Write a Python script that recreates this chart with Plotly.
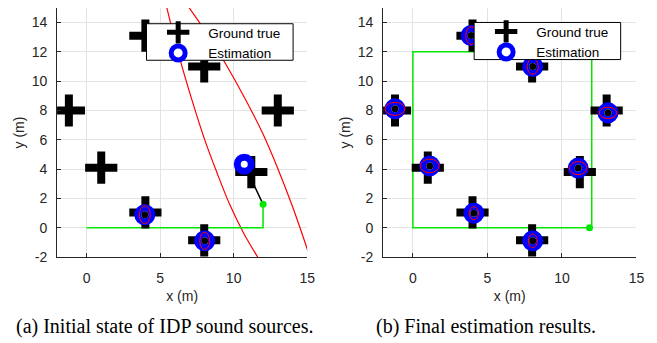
import plotly.graph_objects as go

# ---------------- data ----------------
truth_x = [4.0, 8.0, -1.2, 13.0, 1.0, 11.2, 4.0, 8.0]
truth_y = [13.1, 11.0, 8.0, 8.0, 4.1, 3.8, 1.05, -0.85]

# (a) initial state
init_est_x = [10.72, 3.96, 8.03]
init_est_y = [4.34, 0.89, -0.89]
init_dot_x = [3.96, 8.03]
init_dot_y = [0.89, -0.89]
init_ell_w = [0.74, 0.67]
init_ell_h = [1.22, 1.18]
init_path_x = [0, 12, 12]
init_path_y = [0, 0, 1.6]
init_robot_x = [12.0]
init_robot_y = [1.6]
init_ray_x = [12.0, 10.72]
init_ray_y = [1.6, 4.34]
curve1_x = [5.46, 6.35, 7.2, 8.0, 8.85, 9.75, 10.7, 11.64]
curve1_y = [15.0, 11.5, 8.6, 6.1, 3.8, 1.55, -0.4, -2.0]
curve2_x = [6.98, 8.25, 9.5, 10.75, 11.95, 13.0, 14.0, 15.04]
curve2_y = [15.0, 13.15, 11.1, 8.85, 6.5, 4.05, 1.45, -1.56]

# (b) final estimation
fin_est_x = [3.91, 8.04, -1.2, 13.09, 1.13, 11.09, 4.09, 8.04]
fin_est_y = [13.11, 11.0, 8.11, 7.84, 4.22, 4.07, 1.0, -0.89]
fin_ell_w = [0.73, 0.75, 1.33, 1.17, 1.26, 1.17, 0.62, 0.60]
fin_ell_h = [1.20, 1.05, 0.89, 0.78, 0.93, 0.89, 0.89, 0.93]
fin_path_x = [12, 12, 0, 0, 11.85]
fin_path_y = [0, 12, 12, 0, 0]
fin_robot_x = [11.85]
fin_robot_y = [0.0]

x_ticks = [0, 5, 10, 15]
y_ticks = [-2, 0, 2, 4, 6, 8, 10, 12, 14]
captions = ["(a) Initial state of IDP sound sources.", "(b) Final estimation results."]

# ---------------- styles ----------------
GREEN = "#00e600"
BLUE = "#0000ff"
AXC = "#262626"
FONT = "Liberation Sans, Arial, sans-serif"
SERIF = "Liberation Serif, Times New Roman, serif"
W, H = 657, 343

fig = go.Figure()

def add_panel(xa, ya, leg, curves, path_x, path_y, robot_x, robot_y, ray,
              est_x, est_y, dot_x, dot_y):
    for cx, cy in curves:
        fig.add_trace(go.Scatter(x=cx, y=cy, mode="lines",
                                 line=dict(color="red", width=1.2, shape="spline", smoothing=1.0),
                                 xaxis=xa, yaxis=ya, showlegend=False, hoverinfo="skip"))
    fig.add_trace(go.Scatter(x=path_x, y=path_y, mode="lines", line=dict(color=GREEN, width=1.5),
                             xaxis=xa, yaxis=ya, showlegend=False, hoverinfo="skip"))
    if ray is not None:
        fig.add_trace(go.Scatter(x=ray[0], y=ray[1], mode="lines", line=dict(color="black", width=1.5),
                                 xaxis=xa, yaxis=ya, showlegend=False, hoverinfo="skip"))
    fig.add_trace(go.Scatter(x=robot_x, y=robot_y, mode="markers",
                             marker=dict(color=GREEN, size=7, symbol="circle"),
                             xaxis=xa, yaxis=ya, showlegend=False, hoverinfo="skip"))
    fig.add_trace(go.Scatter(x=truth_x, y=truth_y, mode="markers", name="Ground true",
                             marker=dict(symbol="cross-thin", size=23, line=dict(color="black", width=8)),
                             xaxis=xa, yaxis=ya, legend=leg, showlegend=True))
    fig.add_trace(go.Scatter(x=est_x, y=est_y, mode="markers", name="Estimation",
                             marker=dict(symbol="circle", size=14, color="white",
                                         line=dict(color=BLUE, width=7)),
                             xaxis=xa, yaxis=ya, legend=leg, showlegend=True))
    fig.add_trace(go.Scatter(x=dot_x, y=dot_y, mode="markers",
                             marker=dict(symbol="circle", size=7, color="black"),
                             xaxis=xa, yaxis=ya, showlegend=False, hoverinfo="skip"))

add_panel("x", "y", "legend", [(curve1_x, curve1_y), (curve2_x, curve2_y)],
          init_path_x, init_path_y, init_robot_x, init_robot_y, (init_ray_x, init_ray_y),
          init_est_x, init_est_y, init_dot_x, init_dot_y)
add_panel("x2", "y2", "legend2", [],
          fin_path_x, fin_path_y, fin_robot_x, fin_robot_y, None,
          fin_est_x, fin_est_y, fin_est_x, fin_est_y)

shapes = []
for cx, cy, w, h in zip(init_dot_x, init_dot_y, init_ell_w, init_ell_h):
    shapes.append(dict(type="circle", xref="x", yref="y", x0=cx - w / 2, x1=cx + w / 2,
                       y0=cy - h / 2, y1=cy + h / 2, line=dict(color="red", width=1), layer="above"))
for cx, cy, w, h in zip(fin_est_x, fin_est_y, fin_ell_w, fin_ell_h):
    shapes.append(dict(type="circle", xref="x2", yref="y2", x0=cx - w / 2, x1=cx + w / 2,
                       y0=cy - h / 2, y1=cy + h / 2, line=dict(color="red", width=1), layer="above"))

# legend boxes (white, black border) drawn above the data; legend entries sit on top
legend_boxes = [(148.3, 296.7, 24.3, 61.7), (480.0, 628.3, 23.0, 61.0)]
for x0, x1, y0, y1 in legend_boxes:
    shapes.append(dict(type="rect", xref="paper", yref="paper",
                       x0=x0 / W, x1=x1 / W, y0=1 - y1 / H, y1=1 - y0 / H,
                       fillcolor="white", line=dict(color="black", width=1), layer="above"))

def ax_common(**kw):
    d = dict(range=[-2, 15], showgrid=True, gridcolor="#e3e3e3", gridwidth=1,
             showline=True, linecolor=AXC, linewidth=1, ticks="inside", ticklen=4,
             tickcolor=AXC, zeroline=False, mirror=False, fixedrange=True,
             tickfont=dict(family=FONT, size=14, color=AXC))
    d.update(kw)
    return d

xdomL = [57.8 / W, 311 / W]
xdomR = [387.8 / W, 644.3 / W]
ydom = [1 - 263.3 / H, 1 - 8 / H]

xt = dict(tickvals=x_ticks, ticktext=[str(v) for v in x_ticks], ticklabelstandoff=8,
          title=dict(text="x (m)", font=dict(family=FONT, size=14, color=AXC), standoff=6))
yt = dict(tickvals=y_ticks, ticktext=[str(v) for v in y_ticks], ticklabelstandoff=6,
          title=dict(text="y (m)", font=dict(family=FONT, size=14, color=AXC), standoff=3))

legend_style = dict(bgcolor="rgba(0,0,0,0)", borderwidth=0,
                    font=dict(family=FONT, size=13.5, color="black"),
                    xanchor="left", yanchor="top", itemwidth=50, tracegroupgap=0)

fig.update_layout(
    width=W, height=H, margin=dict(l=0, r=0, t=0, b=0),
    paper_bgcolor="white", plot_bgcolor="white",
    xaxis=ax_common(domain=xdomL, anchor="y", **xt),
    yaxis=ax_common(domain=ydom, anchor="x", **yt),
    xaxis2=ax_common(domain=xdomR, anchor="y2", **xt),
    yaxis2=ax_common(domain=ydom, anchor="x2", **yt),
    legend=dict(x=150 / W, y=1 - 17.5 / H, **legend_style),
    legend2=dict(x=482 / W, y=1 - 16.5 / H, **legend_style),
    shapes=shapes,
    annotations=[
        dict(text=captions[0], xref="paper", yref="paper", x=167.5 / W, y=1 - 334 / H,
             showarrow=False, xanchor="center", yanchor="middle",
             font=dict(family=SERIF, size=20, color="black")),
        dict(text=captions[1], xref="paper", yref="paper", x=492 / W, y=1 - 334 / H,
             showarrow=False, xanchor="center", yanchor="middle",
             font=dict(family=SERIF, size=20, color="black")),
    ],
)

fig.write_html("out.html")
